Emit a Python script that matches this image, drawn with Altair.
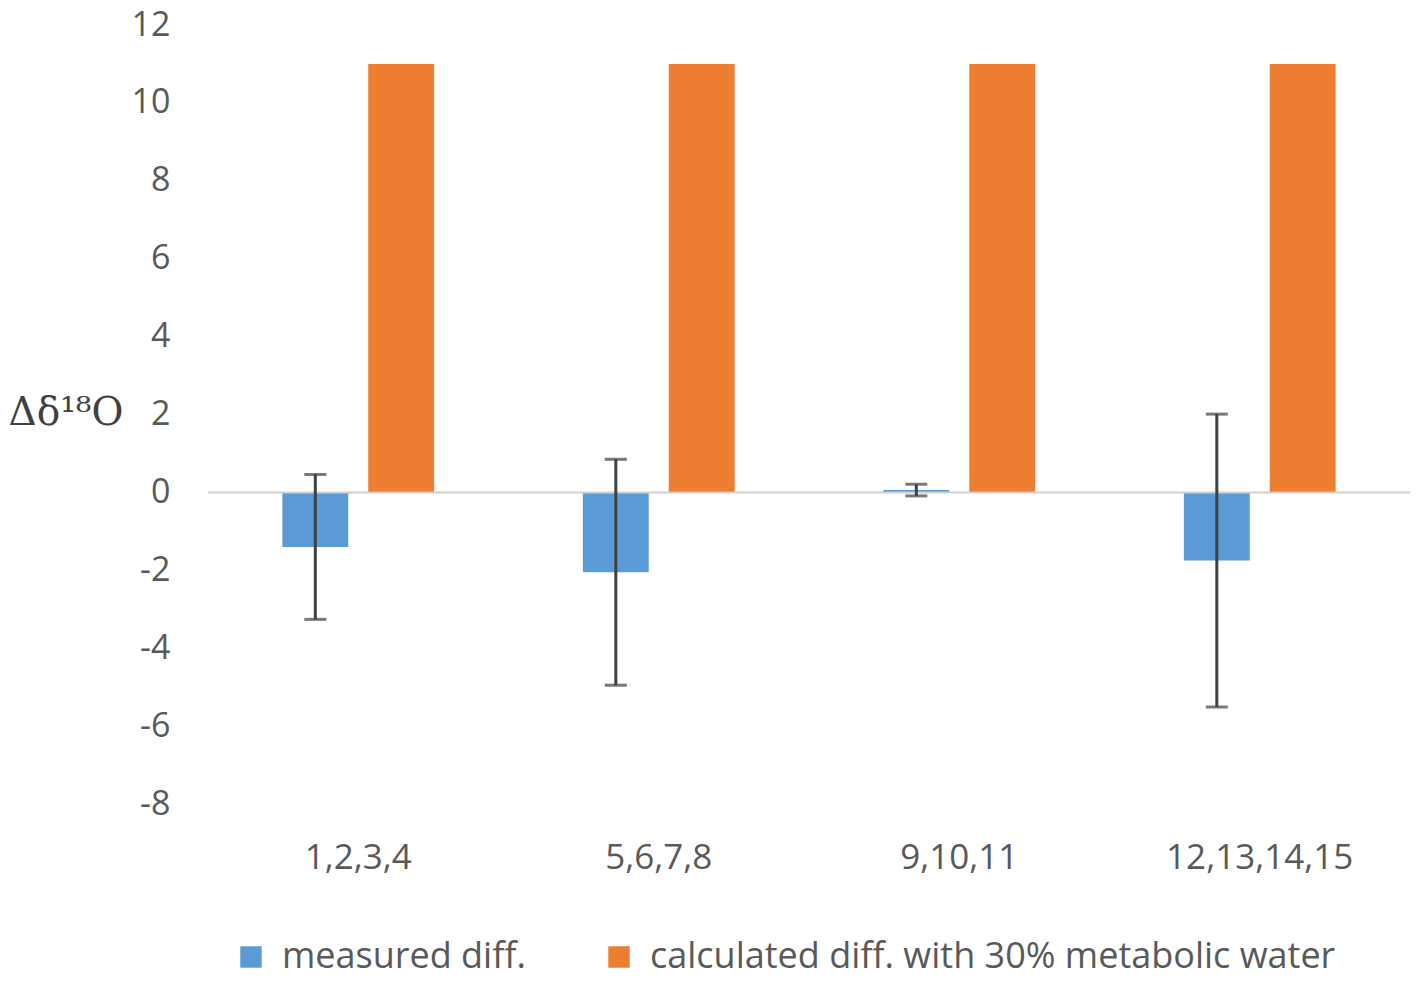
import altair as alt
import pandas as pd

categories = ["1,2,3,4", "5,6,7,8", "9,10,11", "12,13,14,15"]
series_names = ["measured diff.", "calculated diff. with 30% metabolic water"]
measured = [-1.40, -2.05, 0.06, -1.75]
measured_err = [1.86, 2.90, 0.15, 3.76]
calculated = [11.0, 11.0, 11.0, 11.0]
y_ticks = [-8, -6, -4, -2, 0, 2, 4, 6, 8, 10, 12]

rows = []
for c, m, k in zip(categories, measured, calculated):
    rows.append({"cat": c, "series": series_names[0], "value": m})
    rows.append({"cat": c, "series": series_names[1], "value": k})
bars_df = pd.DataFrame(rows)

err_df = pd.DataFrame({
    "cat": categories,
    "series": [series_names[0]] * len(categories),
    "lo": [m - e for m, e in zip(measured, measured_err)],
    "hi": [m + e for m, e in zip(measured, measured_err)],
})
zero_df = pd.DataFrame({"y": [0]})

x_enc = alt.X("cat:N", sort=categories, title=None,
              scale=alt.Scale(paddingInner=0.495, paddingOuter=0.2475),
              axis=alt.Axis(labelAngle=0, ticks=False, domain=False,
                            labelFont="Open Sans", labelFontSize=35, labelLimit=0,
                            labelColor="#595959", labelPadding=36))
xoff_enc = alt.XOffset("series:N", sort=series_names,
                       scale=alt.Scale(domain=series_names, paddingInner=0.233))
y_scale = alt.Scale(domain=[-8, 12], nice=False, zero=False)

bars = alt.Chart(bars_df).mark_bar().encode(
    x=x_enc,
    xOffset=xoff_enc,
    y=alt.Y("value:Q", scale=y_scale, title="Δδ¹⁸O",
            axis=alt.Axis(values=y_ticks, grid=False, ticks=False, domain=False,
                          labelExpr="'' + datum.value",
                          labelFont="Open Sans", labelFontSize=34,
                          labelColor="#595959", labelPadding=38,
                          titleAngle=0, titleAlign="left", titleBaseline="middle",
                          titleX=-200, titleY=387, titleFont="DejaVu Serif",
                          titleFontSize=39, titleFontWeight="normal",
                          titleColor="#404040")),
    color=alt.Color("series:N", sort=series_names,
                    scale=alt.Scale(domain=series_names, range=["#5b9bd5", "#ed7d31"]),
                    legend=alt.Legend(title=None, orient="none", direction="horizontal",
                                      legendX=25, legendY=914, symbolType="square",
                                      symbolSize=460, symbolStrokeWidth=0,
                                      labelFont="Open Sans", labelFontSize=36,
                                      labelColor="#595959", columnPadding=75,
                                      labelOffset=13, labelLimit=0)),
)

zero = alt.Chart(zero_df).mark_rule(color="#d0d0d0", strokeWidth=2).encode(
    y=alt.Y("y:Q", scale=y_scale)
)

err_rule = alt.Chart(err_df).mark_rule(color="#404040", strokeWidth=3).encode(
    x=x_enc, xOffset=xoff_enc,
    y=alt.Y("lo:Q", scale=y_scale), y2="hi:Q",
)
cap_lo = alt.Chart(err_df).mark_tick(color="#404040", thickness=3, size=22, orient="horizontal").encode(
    x=x_enc, xOffset=xoff_enc, y=alt.Y("lo:Q", scale=y_scale),
)
cap_hi = alt.Chart(err_df).mark_tick(color="#404040", thickness=3, size=22, orient="horizontal").encode(
    x=x_enc, xOffset=xoff_enc, y=alt.Y("hi:Q", scale=y_scale),
)

chart = alt.layer(bars, zero, err_rule, cap_lo, cap_hi).properties(
    width=1202, height=779,
    autosize=alt.AutoSizeParams(type="none"),
    padding={"left": 200, "top": 17, "right": 0, "bottom": 175},
).configure_view(stroke=None)

chart.save("out.html", embed_options={"renderer": "svg", "actions": False})
